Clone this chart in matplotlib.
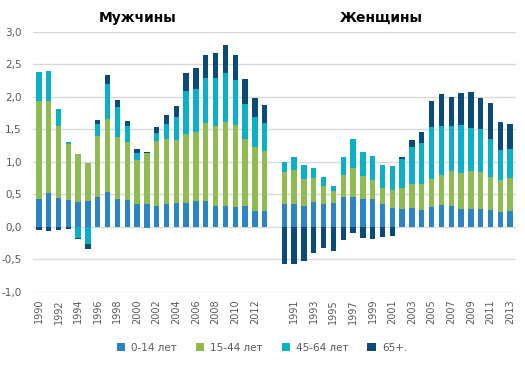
import matplotlib
matplotlib.use("Agg")
import matplotlib.pyplot as plt
import numpy as np

years = list(range(1990, 2014))
series_names = ["0-14 лет", "15-44 лет", "45-64 лет", "65+."]
colors = ["#2A84C6", "#8FBC50", "#0AAFC8", "#0B4B78"]

men_0_14 = [0.43, 0.52, 0.44, 0.41, 0.385, 0.395, 0.456, 0.54, 0.426, 0.41, 0.35, 0.35,
            0.318, 0.35, 0.364, 0.364, 0.395, 0.395, 0.318, 0.318, 0.303, 0.318, 0.241, 0.241]
men_15_44 = [1.50, 1.42, 1.11, 0.87, 0.73, 0.585, 0.944, 1.12, 0.96, 0.90, 0.68, 0.785,
             1.0, 1.0, 0.97, 1.067, 1.06, 1.2, 1.23, 1.29, 1.26, 1.03, 0.985, 0.92]
men_45_64 = [0.45, 0.46, 0.26, 0.03, -0.17, -0.265, 0.18, 0.54, 0.46, 0.246, 0.108, -0.02,
             0.128, 0.23, 0.354, 0.66, 0.66, 0.69, 0.738, 0.754, 0.69, 0.54, 0.46, 0.43]
men_65 = [-0.05, -0.06, -0.046, -0.03, -0.015, -0.07, 0.06, 0.14, 0.11, 0.077, 0.062, 0.016,
          0.092, 0.138, 0.17, 0.277, 0.323, 0.354, 0.385, 0.43, 0.385, 0.385, 0.29, 0.29]

women_0_14 = [0.35, 0.35, 0.318, 0.38, 0.35, 0.364, 0.456, 0.456, 0.426, 0.426, 0.35, 0.287,
              0.272, 0.287, 0.256, 0.303, 0.333, 0.318, 0.272, 0.272, 0.272, 0.256, 0.226, 0.241]
women_15_44 = [0.49, 0.52, 0.415, 0.37, 0.277, 0.185, 0.34, 0.447, 0.353, 0.29, 0.245, 0.277,
               0.323, 0.369, 0.40, 0.43, 0.462, 0.538, 0.554, 0.584, 0.569, 0.508, 0.492, 0.508]
women_45_64 = [0.155, 0.20, 0.216, 0.154, 0.138, 0.077, 0.277, 0.446, 0.37, 0.37, 0.354, 0.37,
               0.446, 0.57, 0.631, 0.80, 0.754, 0.693, 0.738, 0.662, 0.662, 0.585, 0.461, 0.446]
women_65 = [-0.566, -0.566, -0.52, -0.40, -0.32, -0.37, -0.20, -0.09, -0.17, -0.18, -0.15, -0.14,
            0.031, 0.107, 0.169, 0.40, 0.492, 0.446, 0.492, 0.554, 0.476, 0.554, 0.431, 0.384]

men = [men_0_14, men_15_44, men_45_64, men_65]
women = [women_0_14, women_15_44, women_45_64, women_65]

# build combined category axis: men years, gap, women years
n = len(years)
x_men = np.arange(n)
x_women = np.arange(n) + n + 1
x_all = np.concatenate([x_men, x_women])
data = [np.array(m + [None] * 0, dtype=float).tolist() + w for m, w in zip(men, women)]
data = [np.array(d, dtype=float) for d in data]

fig = plt.figure(figsize=(5.25, 3.67), dpi=100)
ax = fig.add_axes([33 / 525, 1 - 292 / 367, 483 / 525, 260.3 / 367])

pos_bottom = np.zeros(len(x_all))
neg_bottom = np.zeros(len(x_all))
for vals, col, name in zip(data, colors, series_names):
    bottom = np.where(vals >= 0, pos_bottom, neg_bottom)
    ax.bar(x_all, vals, 0.55, bottom=bottom, color=col, label=name, zorder=3)
    pos_bottom = pos_bottom + np.where(vals >= 0, vals, 0)
    neg_bottom = neg_bottom + np.where(vals < 0, vals, 0)

ax.set_ylim(-1.0, 3.0)
ax.set_xlim(-0.6, 48.6)
yt = np.arange(-1.0, 3.01, 0.5)
ax.set_yticks(yt)
ax.set_yticklabels([f"{v:.1f}".replace(".", ",") for v in yt], fontsize=7.5, color="#595959")
ax.grid(axis="y", color="#D9D9D9", linewidth=1, zorder=0)
for s in ax.spines.values():
    s.set_visible(False)
ax.tick_params(axis="both", length=0)
ax.tick_params(axis="y", pad=8)

tick_pos = list(x_men[::2]) + list(x_women[1::2])
tick_lab = [str(y) for y in years[::2]] + [str(y) for y in years[1::2]]
ax.set_xticks(tick_pos)
ax.set_xticklabels(tick_lab, rotation=90, fontsize=7, color="#595959")
ax.tick_params(axis="x", pad=5)

fig.text(138 / 525, 1 - 18 / 367, "Мужчины", ha="center", va="center", fontsize=10, fontweight="bold")
fig.text(381 / 525, 1 - 18 / 367, "Женщины", ha="center", va="center", fontsize=10, fontweight="bold")

handles, labels = ax.get_legend_handles_labels()
fig.legend(handles, labels, loc="center", bbox_to_anchor=(262 / 525, 1 - 348 / 367), ncol=4,
           frameon=False, fontsize=7.5, handlelength=0.8, handleheight=0.8, columnspacing=1.8,
           handletextpad=0.6, labelcolor="#595959")

fig.savefig("out.png", dpi=100)
